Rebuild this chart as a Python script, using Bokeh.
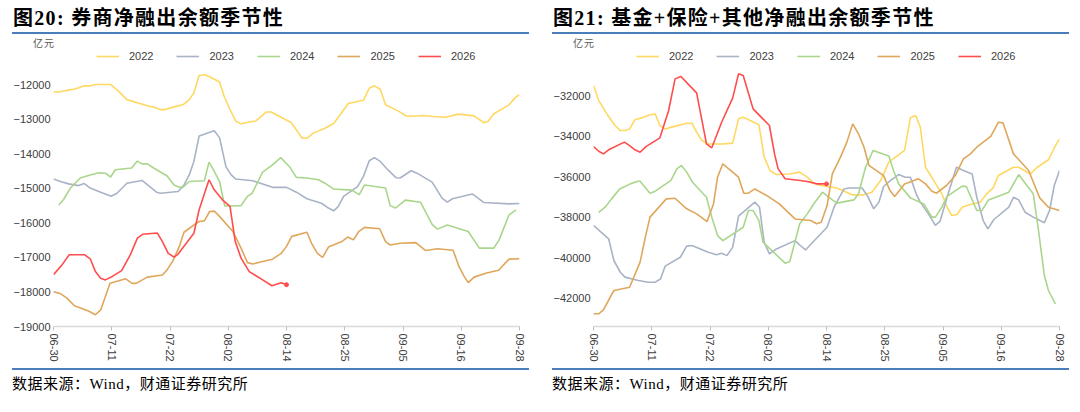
from bokeh.plotting import figure
from bokeh.models import Legend, LegendItem, FixedTicker, Range1d, Div
from bokeh.layouts import row, column
from bokeh.embed import file_html
from bokeh.resources import INLINE

years = ["2022", "2023", "2024", "2025", "2026"]
colors = ["#FFD862", "#A9B3C6", "#AAD68C", "#DFA75C", "#FF4D4D"]
x_tick_pos = [0, 10, 20, 30, 40, 50, 60, 70, 80]
x_tick_labels = ["06-30", "07-11", "07-22", "08-02", "08-14", "08-25", "09-05", "09-16", "09-28"]

left_title = "图20: 券商净融出余额季节性"
right_title = "图21: 基金+保险+其他净融出余额季节性"
source_text = "数据来源：Wind，财通证券研究所"
unit_text = "亿元"

left_yticks = [-19000, -18000, -17000, -16000, -15000, -14000, -13000, -12000]
right_yticks = [-42000, -40000, -38000, -36000, -34000, -32000]

# (x position on the date axis, value)  -- left: 券商
L2022 = [(0, -12210), (0.9, -12210), (2.0, -12170), (3.7, -12120), (5.3, -12030), (6.3, -12030), (7.2, -11990),
         (9.8, -11990), (11.2, -12190), (12.6, -12430), (14.4, -12520), (16.4, -12620), (17.2, -12640),
         (18.4, -12720), (19.0, -12720), (20.7, -12640), (22.2, -12580), (23.3, -12430), (24.1, -12240),
         (25.0, -11730), (25.9, -11710), (26.7, -11760), (28.5, -11920), (29.3, -12340), (30.2, -12680),
         (31.3, -13060), (32.2, -13130), (33.6, -13080), (34.7, -13050), (36.5, -12790), (37.4, -12790),
         (38.8, -12920), (40.8, -13090), (42.7, -13550), (43.5, -13550), (44.6, -13400), (46.6, -13260),
         (48.1, -13120), (49.2, -12870), (50.6, -12540), (53.2, -12450), (54.2, -12100), (55.1, -12030),
         (56.1, -12130), (57.0, -12580), (59.3, -12770), (60.5, -12900), (61.8, -12910), (63.3, -12890),
         (65.3, -12920), (67.3, -12940), (69.5, -12850), (72.2, -12900), (73.9, -13100), (74.6, -13060),
         (75.6, -12840), (78.2, -12580), (79.4, -12350), (80.0, -12290)]
L2023 = [(0, -14730), (1.2, -14800), (2.6, -14870), (4.3, -14920), (5.3, -14860), (6.3, -14990), (8.1, -15110),
         (9.9, -15230), (10.9, -15140), (12.6, -14850), (15.2, -14770), (17.8, -15120), (18.4, -15140),
         (21.4, -15090), (22.4, -14900), (23.3, -14610), (24.1, -14220), (25.0, -13480), (27.6, -13330),
         (28.5, -13530), (29.6, -14370), (30.5, -14610), (31.3, -14730), (34.2, -14780), (37.6, -14970),
         (40.0, -14970), (41.7, -15110), (43.5, -15300), (46.0, -15430), (47.2, -15570), (48.1, -15650),
         (48.9, -15520), (49.8, -15230), (52.2, -14950), (53.2, -14660), (54.2, -14200), (55.1, -14110),
         (56.1, -14220), (57.5, -14480), (58.8, -14690), (59.5, -14700), (61.4, -14490), (62.4, -14560),
         (65.0, -14820), (66.7, -15280), (67.6, -15400), (68.5, -15300), (71.9, -15160), (73.9, -15410),
         (78.2, -15450), (80.0, -15440)]
L2024 = [(0.9, -15480), (1.7, -15330), (2.9, -14990), (4.6, -14700), (6.3, -14610), (7.8, -14550), (8.9, -14560),
         (9.8, -14670), (10.6, -14460), (13.4, -14410), (14.4, -14210), (15.2, -14290), (16.1, -14290),
         (17.2, -14410), (19.5, -14640), (20.7, -14900), (21.6, -14970), (22.2, -14970), (23.3, -14800),
         (25.9, -14780), (26.7, -14240), (27.6, -14510), (28.5, -14800), (29.4, -15510), (32.2, -15500),
         (33.3, -15230), (34.1, -15140), (35.9, -14530), (37.6, -14320), (39.0, -14110), (40.6, -14390),
         (41.7, -14680), (43.5, -14700), (45.5, -14750), (46.6, -14850), (48.1, -15020), (51.2, -15050),
         (52.5, -15180), (53.4, -14900), (57.0, -14990), (57.8, -15500), (58.7, -15570), (60.4, -15340),
         (63.0, -15400), (65.0, -16040), (65.9, -16180), (67.6, -16060), (71.2, -16250), (73.1, -16730),
         (75.6, -16730), (76.5, -16490), (78.2, -15770), (79.4, -15620)]
L2025 = [(0, -17990), (1.2, -18050), (2.3, -18180), (3.6, -18400), (6.0, -18550), (7.2, -18660), (8.1, -18520),
         (9.7, -17750), (12.4, -17620), (13.5, -17750), (14.2, -17750), (16.1, -17570), (18.7, -17510),
         (19.5, -17360), (20.5, -17100), (21.6, -16680), (22.4, -16270), (24.1, -16060), (25.0, -15960),
         (25.9, -15940), (26.8, -15670), (27.6, -15660), (28.5, -15810), (30.8, -16250), (32.2, -16730),
         (33.3, -17150), (34.2, -17190), (35.9, -17120), (37.6, -17050), (39.1, -16880), (40.0, -16680),
         (40.9, -16390), (43.5, -16270), (44.3, -16590), (45.3, -16880), (46.2, -17000), (47.2, -16700),
         (49.5, -16540), (50.5, -16410), (51.5, -16490), (52.4, -16250), (53.4, -16130), (56.0, -16170),
         (57.0, -16540), (57.8, -16640), (59.5, -16590), (62.2, -16570), (63.9, -16800), (65.9, -16750),
         (68.6, -16790), (69.6, -17260), (70.5, -17550), (71.2, -17730), (72.2, -17570), (74.2, -17460),
         (76.4, -17370), (78.2, -17050), (80.0, -17040)]
L2026 = [(0, -17500), (1.4, -17230), (2.7, -16920), (5.3, -16920), (6.3, -17040), (7.2, -17410), (8.1, -17600),
         (8.9, -17650), (10.1, -17550), (11.7, -17380), (13.2, -16920), (14.4, -16440), (15.3, -16330),
         (17.8, -16290), (18.7, -16540), (19.7, -16880), (20.7, -16990), (21.3, -16920), (24.1, -16300),
         (25.0, -15620), (26.7, -14750), (27.6, -15040), (29.0, -15330), (30.3, -15520), (31.2, -16540),
         (32.2, -17020), (33.6, -17410), (35.9, -17650), (37.5, -17820), (39.1, -17730), (40.0, -17790)]

# right: 基金+保险+其他
R2022 = [(0, -31510), (0.9, -32250), (2.3, -32910), (3.7, -33480), (4.6, -33730), (5.4, -33730), (6.2, -33650),
         (7.1, -33200), (8.6, -33070), (9.7, -32950), (10.6, -32910), (11.4, -33480), (12.3, -33650),
         (13.4, -33560), (16.0, -33370), (16.9, -33370), (17.7, -33810), (18.6, -34220), (19.7, -34390),
         (22.2, -34390), (23.9, -34350), (24.9, -33150), (25.7, -33070), (26.9, -33230), (28.4, -33450),
         (29.3, -35040), (30.3, -35700), (31.4, -35900), (33.7, -35870), (35.4, -35780), (36.7, -36030),
         (37.8, -36330), (39.0, -36440), (41.8, -36560), (44.4, -36900), (46.4, -36900), (47.8, -36770),
         (49.3, -36190), (50.7, -35290), (53.4, -34710), (54.4, -33100), (55.3, -32990), (56.1, -33560),
         (57.0, -35540), (58.4, -36190), (59.8, -36850), (60.7, -37510), (61.5, -37920), (62.4, -37870),
         (63.3, -37510), (64.7, -37380), (66.4, -37260), (67.5, -36850), (68.6, -36560), (69.5, -35950),
         (72.1, -35540), (73.0, -35540), (75.0, -35870), (76.2, -35540), (78.1, -35170), (79.3, -34470),
         (80.0, -34140)]
R2023 = [(0, -38410), (2.6, -39070), (3.5, -40140), (4.6, -40720), (5.4, -40960), (7.7, -41130), (9.4, -41210),
         (10.6, -41210), (11.5, -41050), (12.3, -40420), (14.9, -39980), (16.0, -39430), (16.9, -39400),
         (19.7, -39730), (21.1, -39860), (22.0, -39780), (22.9, -39900), (23.9, -39480), (24.9, -37950),
         (27.7, -37260), (28.5, -37510), (29.3, -39240), (30.2, -39810), (31.4, -39570), (34.6, -39160),
         (35.5, -39400), (36.4, -39620), (37.8, -39190), (40.1, -38500), (41.3, -37510), (43.0, -36610),
         (43.8, -36560), (46.1, -36560), (47.0, -36930), (48.1, -37590), (49.0, -37260), (49.8, -36490),
         (51.0, -36190), (52.4, -35900), (53.5, -36030), (54.4, -36030), (55.5, -36930), (56.1, -37260),
         (57.5, -37840), (58.7, -38410), (59.5, -38200), (60.7, -37020), (62.3, -35540), (63.5, -35700),
         (65.0, -35870), (65.8, -37020), (66.9, -38170), (67.7, -38580), (68.7, -38130), (71.3, -37510),
         (72.1, -37020), (73.0, -37150), (74.1, -37760), (75.5, -38000), (77.4, -38280), (78.3, -37670),
         (79.1, -36440), (80.0, -35700)]
R2024 = [(0.9, -37760), (2.0, -37510), (3.1, -37100), (4.5, -36610), (6.3, -36360), (7.6, -36230), (8.0, -36230),
         (9.7, -36820), (10.6, -36720), (13.3, -36190), (14.3, -35620), (15.1, -35450), (16.0, -35780),
         (17.0, -36280), (19.4, -37020), (20.3, -38000), (21.3, -38910), (22.2, -39160), (25.7, -38500),
         (26.6, -37670), (27.4, -37670), (28.4, -38170), (29.1, -39240), (30.3, -39570), (32.9, -40270),
         (33.7, -40190), (35.4, -38330), (36.7, -37840), (37.8, -37350), (39.3, -36770), (41.0, -37150),
         (41.8, -37310), (44.7, -37150), (45.5, -36850), (46.7, -35540), (48.0, -34710), (50.7, -34990),
         (51.5, -35700), (52.4, -36360), (54.4, -37050), (56.7, -37350), (58.1, -38000), (58.7, -38000),
         (59.8, -37510), (60.7, -36980), (63.3, -36470), (64.0, -36490), (65.8, -37670), (66.7, -37670),
         (67.8, -37150), (71.3, -36770), (73.0, -35900), (74.4, -36440), (75.5, -36850), (76.4, -38660),
         (77.4, -40880), (78.1, -41620), (79.3, -42280)]
R2025 = [(0, -42770), (0.9, -42770), (1.7, -42580), (3.5, -41620), (6.2, -41460), (8.0, -40220), (8.9, -38990),
         (9.7, -38000), (12.5, -37100), (14.0, -37070), (16.0, -37590), (17.7, -37840), (19.5, -38220),
         (20.6, -37350), (21.3, -36030), (22.2, -35370), (24.9, -36030), (25.8, -36820), (26.6, -36820),
         (27.7, -36610), (29.7, -36930), (31.9, -37350), (34.6, -38090), (37.3, -38170), (38.3, -38330),
         (39.1, -38250), (40.1, -37430), (41.0, -35870), (42.4, -35040), (43.5, -34300), (44.5, -33400),
         (45.5, -33890), (46.4, -34520), (47.3, -35450), (49.8, -35950), (50.9, -36690), (51.7, -36980),
         (53.4, -36360), (55.8, -36110), (57.0, -36360), (58.1, -36720), (58.9, -36820), (60.6, -36440),
         (62.1, -35950), (63.5, -35130), (64.7, -34880), (65.8, -34550), (68.2, -34020), (69.5, -33320),
         (70.3, -33350), (72.1, -34880), (74.7, -35700), (76.6, -37050), (78.1, -37510), (80.0, -37670)]
R2026 = [(0, -34520), (0.9, -34750), (1.7, -34880), (2.6, -34680), (5.3, -34300), (6.2, -34470), (7.1, -34680),
         (8.0, -34800), (9.0, -34520), (11.4, -34090), (12.9, -32740), (14.0, -31180), (15.0, -31060),
         (17.7, -31870), (19.4, -34390), (20.3, -34580), (22.0, -33320), (23.9, -32120), (24.9, -30930),
         (25.7, -31010), (27.4, -32660), (30.2, -33480), (31.1, -34910), (31.7, -35620), (32.9, -36110),
         (35.5, -36190), (36.7, -36240), (38.4, -36360), (40.0, -36360)]

left_series = [L2022, L2023, L2024, L2025, L2026]
right_series = [R2022, R2023, R2024, R2025, R2026]

FONT_SANS = "Liberation Sans"
BLUE = "#4A7EBB"
SERIF_CSS = "'Liberation Serif','Noto Sans CJK SC',serif"
HEAD_H = 48          # header height; the plot frame starts right below it
FOOT_H = 44
FIG_H = 412 - HEAD_H - FOOT_H
FRAME_BOTTOM = 326   # page y of the x axis


def minus(v):
    return ("\u2212" + str(abs(v))) if v < 0 else str(v)


def header(title):
    html = (
        '<div style="position:relative;width:540px;height:%dpx;margin:0;padding:0;">'
        '<div style="position:absolute;left:13px;top:8px;white-space:nowrap;font-weight:bold;'
        'font-size:20px;line-height:20px;letter-spacing:1.3px;color:#000;font-family:%s;">%s</div>'
        '<div style="position:absolute;left:12px;top:31.5px;width:517px;height:2px;background:%s;"></div>'
        '<div style="position:absolute;left:33px;top:%dpx;white-space:nowrap;font-size:10px;'
        'line-height:10px;letter-spacing:1px;color:#595959;font-family:\'Noto Sans CJK SC\';">%s</div>'
        '</div>' % (HEAD_H, SERIF_CSS, title, BLUE, HEAD_H - 10, unit_text)
    )
    return Div(text=html, width=540, height=HEAD_H, margin=(0, 0, 0, 0))


def footer():
    html = (
        '<div style="position:relative;width:540px;height:%dpx;margin:0;padding:0;">'
        '<div style="position:absolute;left:12px;top:0px;width:517px;height:2px;background:%s;"></div>'
        '<div style="position:absolute;left:12px;top:9px;white-space:nowrap;font-size:15px;'
        'line-height:15px;letter-spacing:0.5px;color:#000;font-family:%s;">%s</div>'
        '</div>' % (FOOT_H, BLUE, SERIF_CSS, source_text)
    )
    return Div(text=html, width=540, height=FOOT_H, margin=(0, 0, 0, 0))


def make_panel(series, yticks, ystart, yend):
    p = figure(width=540, height=FIG_H, output_backend="svg", toolbar_location=None, title=None,
               x_range=Range1d(0, 80), y_range=Range1d(ystart, yend),
               min_border_left=53, min_border_right=21,
               min_border_top=0, min_border_bottom=412 - FOOT_H - FRAME_BOTTOM)
    p.outline_line_color = None
    p.grid.visible = False
    p.background_fill_color = "white"
    p.border_fill_color = "white"

    renderers = []
    for pts, c in zip(series, colors):
        xs = [a for a, b in pts]
        ys = [b for a, b in pts]
        r = p.line(xs, ys, line_color=c, line_width=1.6)
        renderers.append(r)
    last = series[-1][-1]
    p.scatter([last[0]], [last[1]], size=4, color=colors[-1])

    xa = p.xaxis[0]
    xa.ticker = FixedTicker(ticks=x_tick_pos)
    xa.major_label_overrides = {t: l for t, l in zip(x_tick_pos, x_tick_labels)}
    xa.major_label_orientation = "vertical"
    xa.axis_line_color = "#D9D9D9"
    xa.axis_line_width = 1.5
    xa.major_tick_line_color = "#BFBFBF"
    xa.major_tick_in = 0
    xa.major_tick_out = 4
    xa.minor_tick_line_color = None
    xa.major_label_standoff = 3
    xa.major_label_text_font = FONT_SANS
    xa.major_label_text_font_size = "11px"
    xa.major_label_text_color = "#404040"

    ya = p.yaxis[0]
    ya.ticker = FixedTicker(ticks=yticks)
    ya.major_label_overrides = {t: minus(t) for t in yticks}
    ya.axis_line_color = None
    ya.major_tick_line_color = None
    ya.minor_tick_line_color = None
    ya.major_tick_in = 0
    ya.major_tick_out = 0
    ya.major_label_standoff = 3
    ya.major_label_text_font = FONT_SANS
    ya.major_label_text_font_size = "11px"
    ya.major_label_text_color = "#404040"

    items = [LegendItem(label=y, renderers=[r]) for y, r in zip(years, renderers)]
    # legend centre at page y 56
    legend = Legend(items=items, orientation="horizontal", location=(43, FRAME_BOTTOM - 56 - 7),
                    glyph_width=23, glyph_height=14, label_height=14, label_standoff=10,
                    spacing=23, padding=0, margin=0, border_line_color=None,
                    background_fill_alpha=0, label_text_font=FONT_SANS,
                    label_text_font_size="11px", label_text_color="#404040")
    p.add_layout(legend)
    return p


# frame spans page y HEAD_H .. FRAME_BOTTOM; scales: 34.53 px per 1000 (left), 20.27 px per 1000 (right)
frame_h = FRAME_BOTTOM - HEAD_H
p1 = make_panel(left_series, left_yticks, -19000, -19000 + frame_h / 0.03453)
p2 = make_panel(right_series, right_yticks, -43396, -43396 + frame_h / 0.02027)

col1 = column(header(left_title), p1, footer(), spacing=0)
col2 = column(header(right_title), p2, footer(), spacing=0)
layout = row(col1, col2, spacing=0)
open("out.html", "w").write(file_html(layout, INLINE))
